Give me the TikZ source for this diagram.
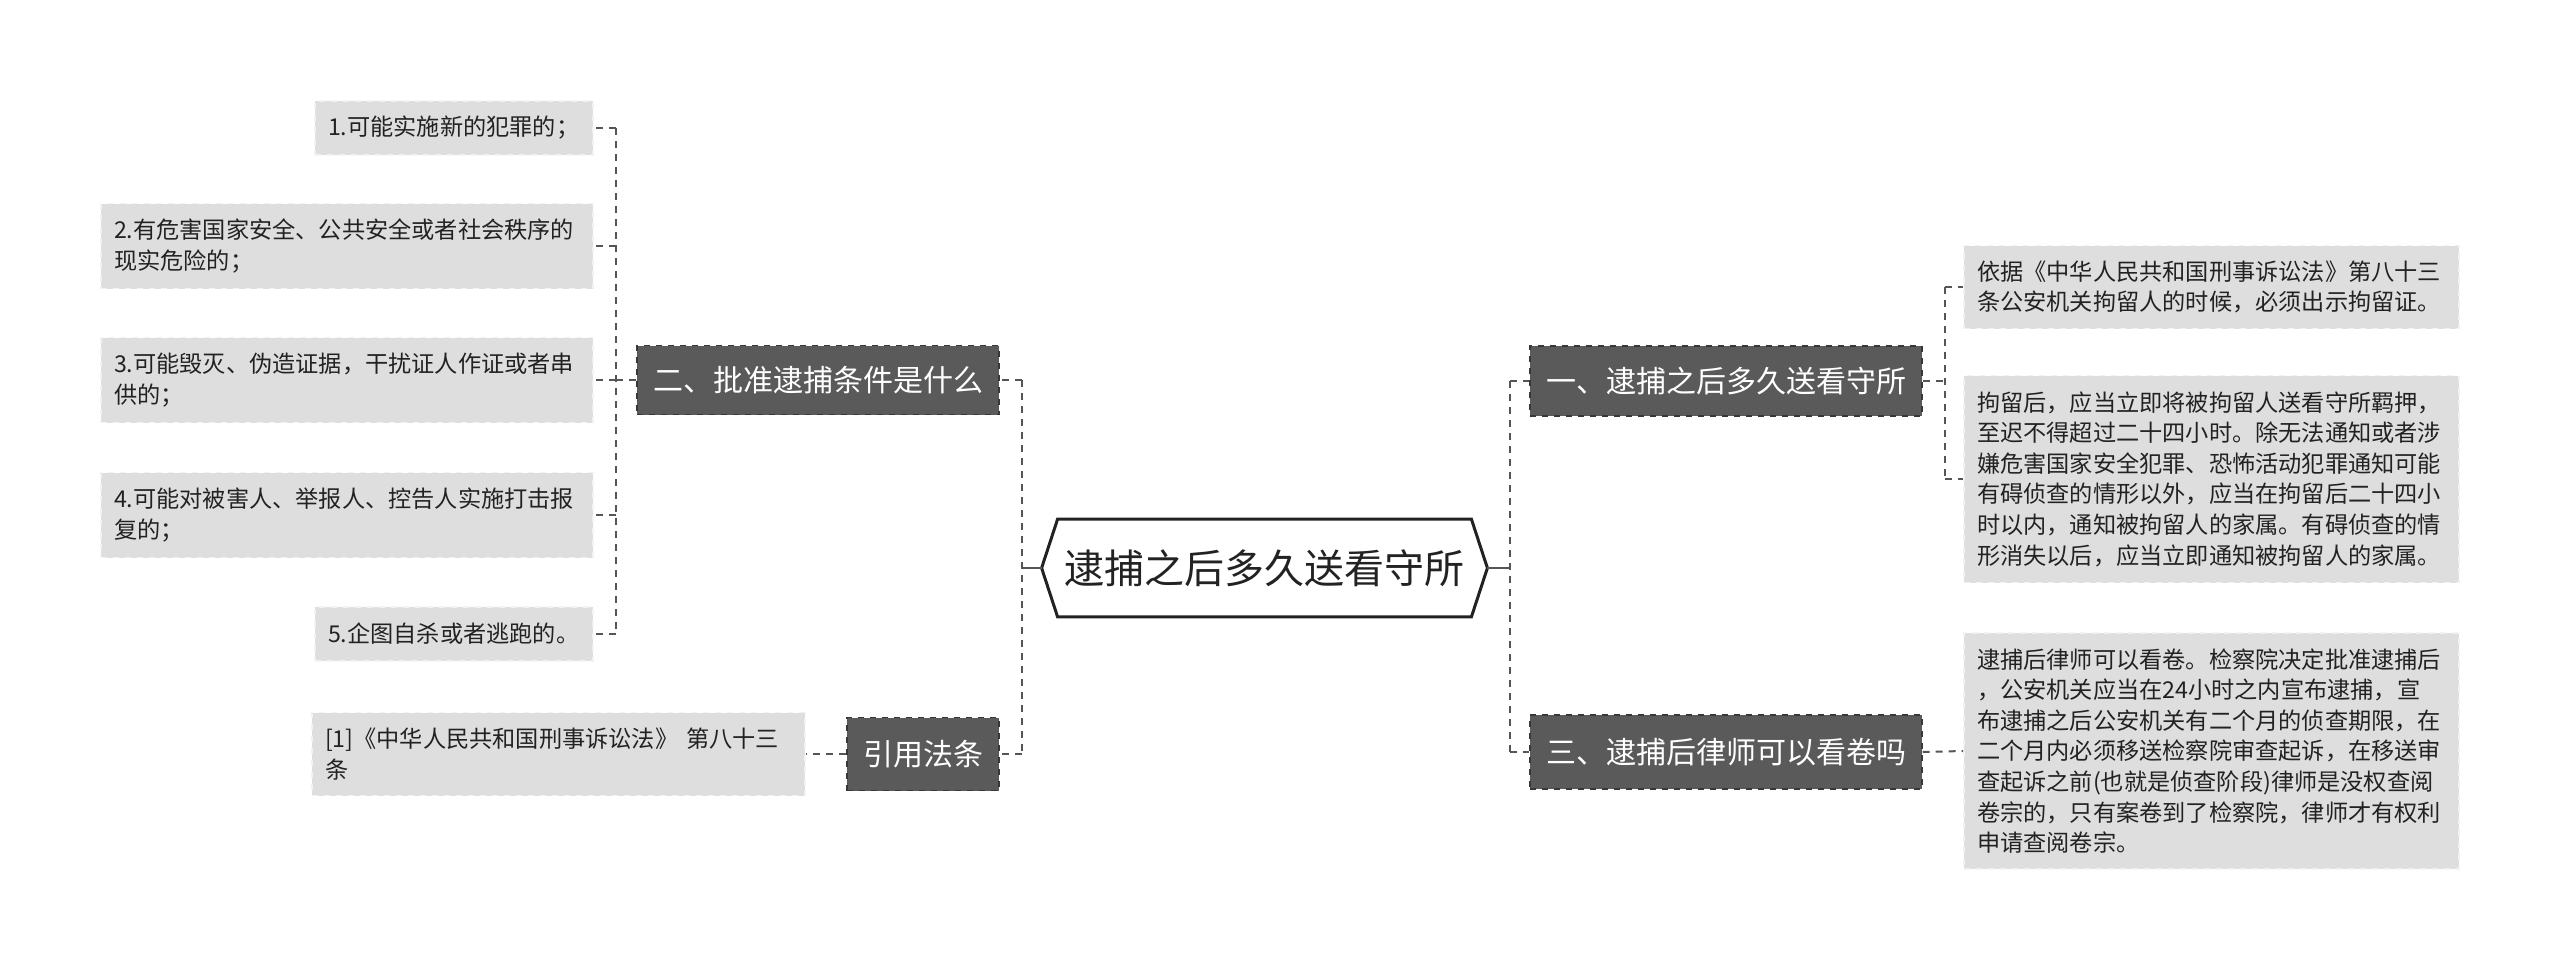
\documentclass[tikz,border=0pt]{standalone}
\usepackage{fontspec}
\setmainfont{Noto Sans CJK SC}
\definecolor{leaffill}{HTML}{DEDEDE}
\definecolor{leafedge}{HTML}{F2F2F2}
\definecolor{brfill}{HTML}{5A5A5A}
\definecolor{bredge}{HTML}{383838}
\definecolor{conncol}{HTML}{555555}
\definecolor{txt}{HTML}{222222}
\tikzset{
  leaf/.style={fill=leaffill, draw=leafedge, dashed, line width=0.8pt, align=left,
    font=\fontsize{11.6}{15.3}\selectfont, text=txt, inner xsep=6.5pt, inner ysep=2pt},
  branch/.style={fill=brfill, draw=bredge, dashed, line width=0.6pt, text=white,
    font=\fontsize{15}{18}\selectfont, inner sep=0pt},
  connector/.style={draw=conncol, line width=1pt, dash pattern=on 3.5pt off 3pt},
  stub/.style={draw=conncol, line width=1.2pt},
  hexline/.style={draw=txt, line width=1.5pt, line join=miter}
}
\begin{document}
\begin{tikzpicture}[x=0.5pt,y=-0.5pt]
\useasboundingbox (0,0) rectangle (2560,969);

% left leaves
\node[leaf, text width=126pt, minimum height=27pt] (c1) at (454,128) {1.可能实施新的犯罪的；};
\node[leaf, text width=233pt, minimum height=42.5pt] (c2) at (347,246) {2.有危害国家安全、公共安全或者社会秩序的\\现实危险的；};
\node[leaf, text width=233pt, minimum height=42.5pt] (c3) at (347,380) {3.可能毁灭、伪造证据，干扰证人作证或者串\\供的；};
\node[leaf, text width=233pt, minimum height=42.5pt] (c4) at (347,515) {4.可能对被害人、举报人、控告人实施打击报\\复的；};
\node[leaf, text width=126pt, minimum height=27pt] (c5) at (454,634) {5.企图自杀或者逃跑的。};
\node[leaf, text width=233.5pt, minimum height=41.5pt] (cq) at (558.5,754) {[1]《中华人民共和国刑事诉讼法》 第八十三\\条};

% left branches
\node[branch, minimum width=181pt, minimum height=34.5pt] (b2) at (818,380) {二、批准逮捕条件是什么};
\node[branch, minimum width=76pt, minimum height=36.5pt] (bq) at (923,754) {引用法条};

% center
\node[minimum width=222.5pt, minimum height=48.5pt, inner sep=0pt, text=txt,
      font=\fontsize{20}{24}\selectfont] (hex) at (1264.5,568) {逮捕之后多久送看守所};
\draw[hexline] (hex.west) -- ([xshift=8pt]hex.north west) -- ([xshift=-8pt]hex.north east)
  -- (hex.east) -- ([xshift=-8pt]hex.south east) -- ([xshift=8pt]hex.south west) -- cycle;

% right branches
\node[branch, minimum width=196pt, minimum height=35pt] (b1) at (1726,381) {一、逮捕之后多久送看守所};
\node[branch, minimum width=196pt, minimum height=37pt] (b3) at (1726,752) {三、逮捕后律师可以看卷吗};

% right leaves
\node[leaf, text width=234.5pt, minimum height=41.5pt] (r1) at (2211.5,287) {依据《中华人民共和国刑事诉讼法》第八十三\\条公安机关拘留人的时候，必须出示拘留证。};
\node[leaf, text width=234.5pt, minimum height=103.5pt] (r2) at (2211.5,479) {拘留后，应当立即将被拘留人送看守所羁押，\\至迟不得超过二十四小时。除无法通知或者涉\\嫌危害国家安全犯罪、恐怖活动犯罪通知可能\\有碍侦查的情形以外，应当在拘留后二十四小\\时以内，通知被拘留人的家属。有碍侦查的情\\形消失以后，应当立即通知被拘留人的家属。};
\node[leaf, text width=234.5pt, minimum height=118pt] (r3) at (2211.5,751) {逮捕后律师可以看卷。检察院决定批准逮捕后\\，公安机关应当在24小时之内宣布逮捕，宣\\布逮捕之后公安机关有二个月的侦查期限，在\\二个月内必须移送检察院审查起诉，在移送审\\查起诉之前(也就是侦查阶段)律师是没权查阅\\卷宗的，只有案卷到了检察院，律师才有权利\\申请查阅卷宗。};

% connectors left
\coordinate (tL) at (1022,568);
\draw[stub] (hex.west) -- (tL);
\draw[connector] (tL |- b2.east) -- (tL |- bq.east);
\draw[connector] (tL |- b2.east) -- (b2.east);
\draw[connector] (tL |- bq.east) -- (bq.east);
\coordinate (t2) at (616,380);
\draw[connector] (b2.west) -- (t2);
\draw[connector] (t2 |- c1.east) -- (t2 |- c5.east);
\draw[connector] (t2 |- c1.east) -- (c1.east);
\draw[connector] (t2 |- c2.east) -- (c2.east);
\draw[connector] (t2 |- c3.east) -- (c3.east);
\draw[connector] (t2 |- c4.east) -- (c4.east);
\draw[connector] (t2 |- c5.east) -- (c5.east);
\draw[connector] (bq.west) -- (cq.east);

% connectors right
\coordinate (tR) at (1510,568);
\draw[stub] (hex.east) -- (tR);
\draw[connector] (tR |- b1.west) -- (tR |- b3.west);
\draw[connector] (tR |- b1.west) -- (b1.west);
\draw[connector] (tR |- b3.west) -- (b3.west);
\coordinate (t1) at (1945,381);
\draw[connector] (b1.east) -- (t1);
\draw[connector] (t1 |- r1.west) -- (t1 |- r2.west);
\draw[connector] (t1 |- r1.west) -- (r1.west);
\draw[connector] (t1 |- r2.west) -- (r2.west);
\draw[connector] (b3.east) -- (r3.west);
\end{tikzpicture}
\end{document}
